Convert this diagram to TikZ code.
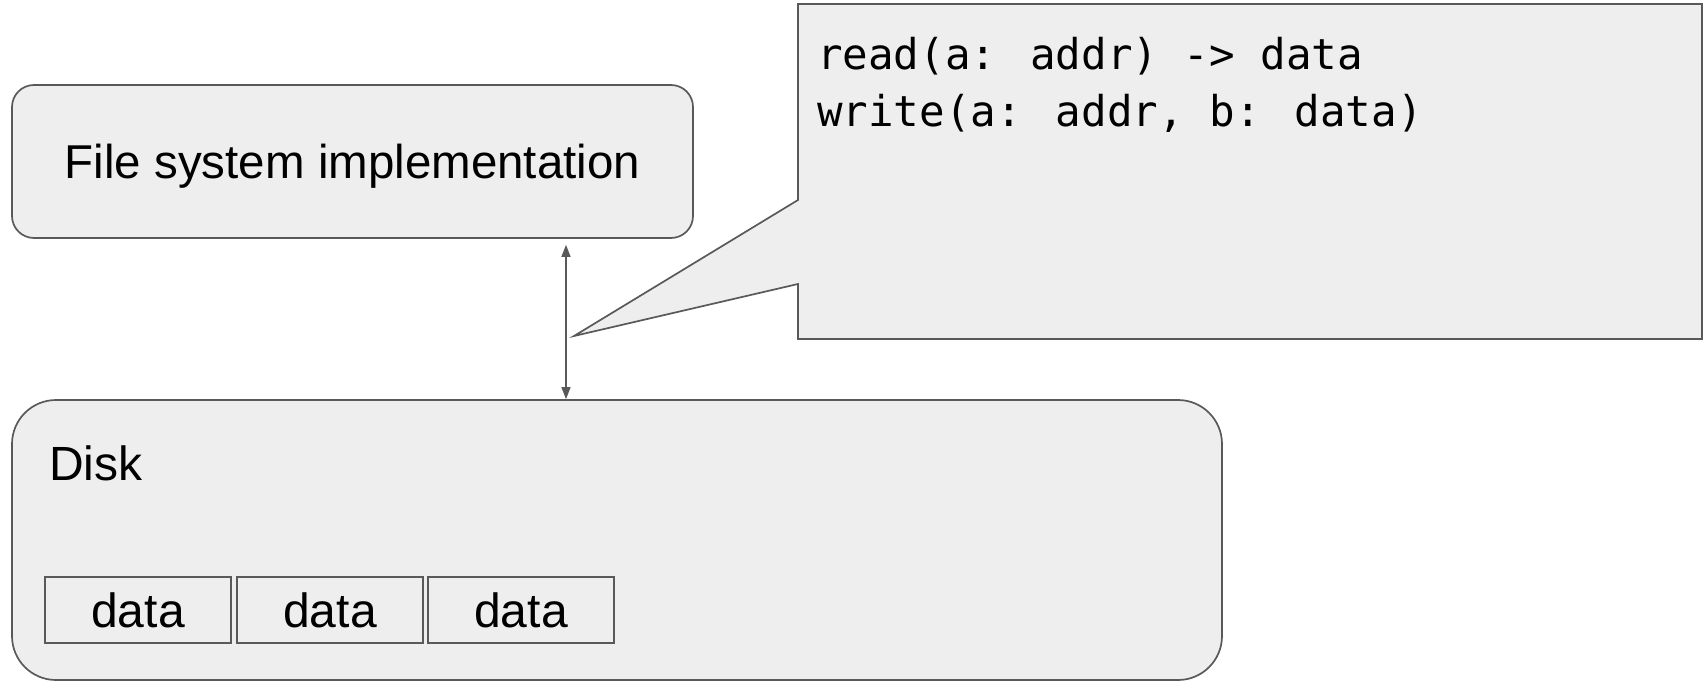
\documentclass[tikz,border=0pt]{standalone}
\usepackage{fontspec}
\setmainfont{Liberation Sans}
\newfontfamily\codefont{DejaVu Sans Mono}
\usetikzlibrary{arrows.meta}
\definecolor{boxfill}{HTML}{EEEEEE}
\definecolor{boxline}{HTML}{595959}
\begin{document}
\begin{tikzpicture}[x=1pt,y=-1pt,
  bigbox/.style={draw=boxline, fill=boxfill, line width=1.7pt, inner sep=0pt},
  datacell/.style={draw=boxline, fill=boxfill, line width=1.4pt, minimum width=186pt,
    minimum height=66pt, inner sep=0pt, text height=35pt, text depth=0pt,
    font=\fontsize{48}{58}\selectfont},
  codeline/.style={anchor=base west, inner sep=0pt, font=\codefont\fontsize{42.5}{57}\selectfont},
  biarrow/.style={draw=boxline, line width=1.3pt,
    {Triangle[length=12pt,width=9pt]}-{Triangle[length=12pt,width=9pt]}}
  ]
\useasboundingbox (0,0) rectangle (1705,682);

% callout with pointer
\filldraw[draw=boxline, fill=boxfill, line width=1.7pt, line join=miter]
  (798,4) -- (1702,4) -- (1702,339) -- (798,339) -- (798,284) -- (574,336) -- (798,200) -- cycle;
\node[codeline] (api1) at (817,70) {read(a: addr) -> data};
\node[codeline] (api2) at (817,127) {write(a: addr, b: data)};

% file system box
\node[bigbox, rounded corners=22pt, minimum width=681pt, minimum height=153pt,
  text height=34pt, text depth=0pt, font=\fontsize{47.5}{57}\selectfont]
  (fs) at (352.5,161.5) {File system implementation};

% disk box
\node[bigbox, rounded corners=44pt, minimum width=1210pt, minimum height=280pt] (disk) at (617,540) {};
\node[anchor=base west, inner sep=0pt, font=\fontsize{48}{58}\selectfont] (disklabel) at (49,480) {Disk};

\node[datacell] (d1) at (138,610) {data};
\node[datacell] (d2) at (330,610) {data};
\node[datacell] (d3) at (521,610) {data};

% double arrow
\coordinate (ax) at (566,0);
\draw[biarrow, shorten <=6pt] (ax |- fs.south) -- (ax |- disk.north);
\end{tikzpicture}
\end{document}
